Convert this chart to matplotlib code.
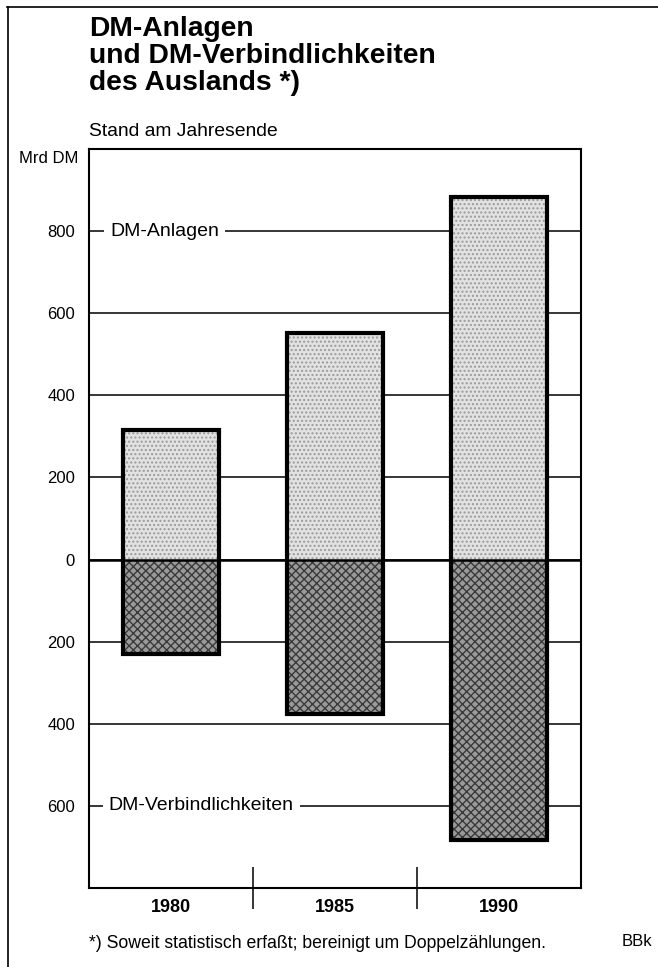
import matplotlib.pyplot as plt
from matplotlib.lines import Line2D

plt.rcParams['font.family'] = ['Liberation Sans', 'DejaVu Sans']
plt.rcParams['hatch.linewidth'] = 1.0

# Werte (Mrd DM), Stand am Jahresende
jahre = ['1980', '1985', '1990']
anlagen = [315, 553, 882]
verbindlichkeiten = [230, 375, 682]
ytick_werte = [-600, -400, -200, 0, 200, 400, 600, 800]
ytick_texte = ['600', '400', '200', '0', '200', '400', '600', '800']

W, H = 658, 967
fig = plt.figure(figsize=(W / 100, H / 100), dpi=100)

def fx(px):
    return px / W

def fy(py):
    return 1 - py / H

# Rahmen links und oben
fig.add_artist(Line2D([fx(7.5), fx(7.5)], [fy(7), 0], color='black', lw=1.2))
fig.add_artist(Line2D([fx(7), 1], [fy(7), fy(7)], color='black', lw=1.2))

# Titel
titel = ['DM-Anlagen', 'und DM-Verbindlichkeiten', 'des Auslands *)']
for i, zeile in enumerate(titel):
    fig.text(fx(89), fy(36 + 27 * i), zeile, fontsize=20.3, fontweight='bold', va='baseline', ha='left')
fig.text(fx(89), fy(136), 'Stand am Jahresende', fontsize=13.9, va='baseline', ha='left')
fig.text(fx(78), fy(163), 'Mrd DM', fontsize=12, va='baseline', ha='right')

ax = fig.add_axes([fx(89), fy(888), fx(581) - fx(89), fy(149) - fy(888)])
x = [i + 0.5 for i in range(len(jahre))]
neg = [-v for v in verbindlichkeiten]
total = [a + v for a, v in zip(anlagen, verbindlichkeiten)]

ax.bar(x, anlagen, width=0.59, color='#e2e2e2', edgecolor='#9a9a9a', linewidth=0,
       hatch='....', zorder=2)
ax.bar(x, neg, width=0.59, color='#9a9a9a', edgecolor='#3a3a3a', linewidth=0,
       hatch='xxxx', zorder=2)
ax.bar(x, total, bottom=neg, width=0.59, fill=False, edgecolor='black', linewidth=3, zorder=4)
ax.axhline(0, color='black', lw=1.8, zorder=3)

ax.set_xlim(0, 3)
ax.set_ylim(-800, 1000)
ax.set_yticks(ytick_werte)
ax.set_yticklabels(ytick_texte)
ax.yaxis.grid(True, color='black', lw=1.1)
ax.set_axisbelow(True)
ax.tick_params(axis='y', length=0, pad=10, labelsize=12)

ax.set_xticks(x)
ax.set_xticklabels(jahre, fontweight='bold', fontsize=13)
ax.tick_params(axis='x', which='major', length=0, pad=8)
ax.set_xticks([1, 2], minor=True)
ax.tick_params(axis='x', which='minor', direction='inout', length=30, width=1.1)
for s in ax.spines.values():
    s.set_linewidth(1.5)

box = dict(boxstyle='square,pad=0.3', facecolor='white', edgecolor='none')
ax.text(0.13, 800, 'DM-Anlagen', fontsize=14, va='center', ha='left', bbox=box, zorder=5)
ax.text(0.12, -600, 'DM-Verbindlichkeiten', fontsize=14, va='center', ha='left', bbox=box, zorder=5)

fig.text(fx(89), fy(943), '*) Soweit statistisch erfaßt; bereinigt um Doppelzählungen.', fontsize=12.7, va='center', ha='left')
fig.text(fx(637), fy(942), 'BBk', fontsize=12, va='center', ha='center')

fig.savefig('out.png', dpi=100)
